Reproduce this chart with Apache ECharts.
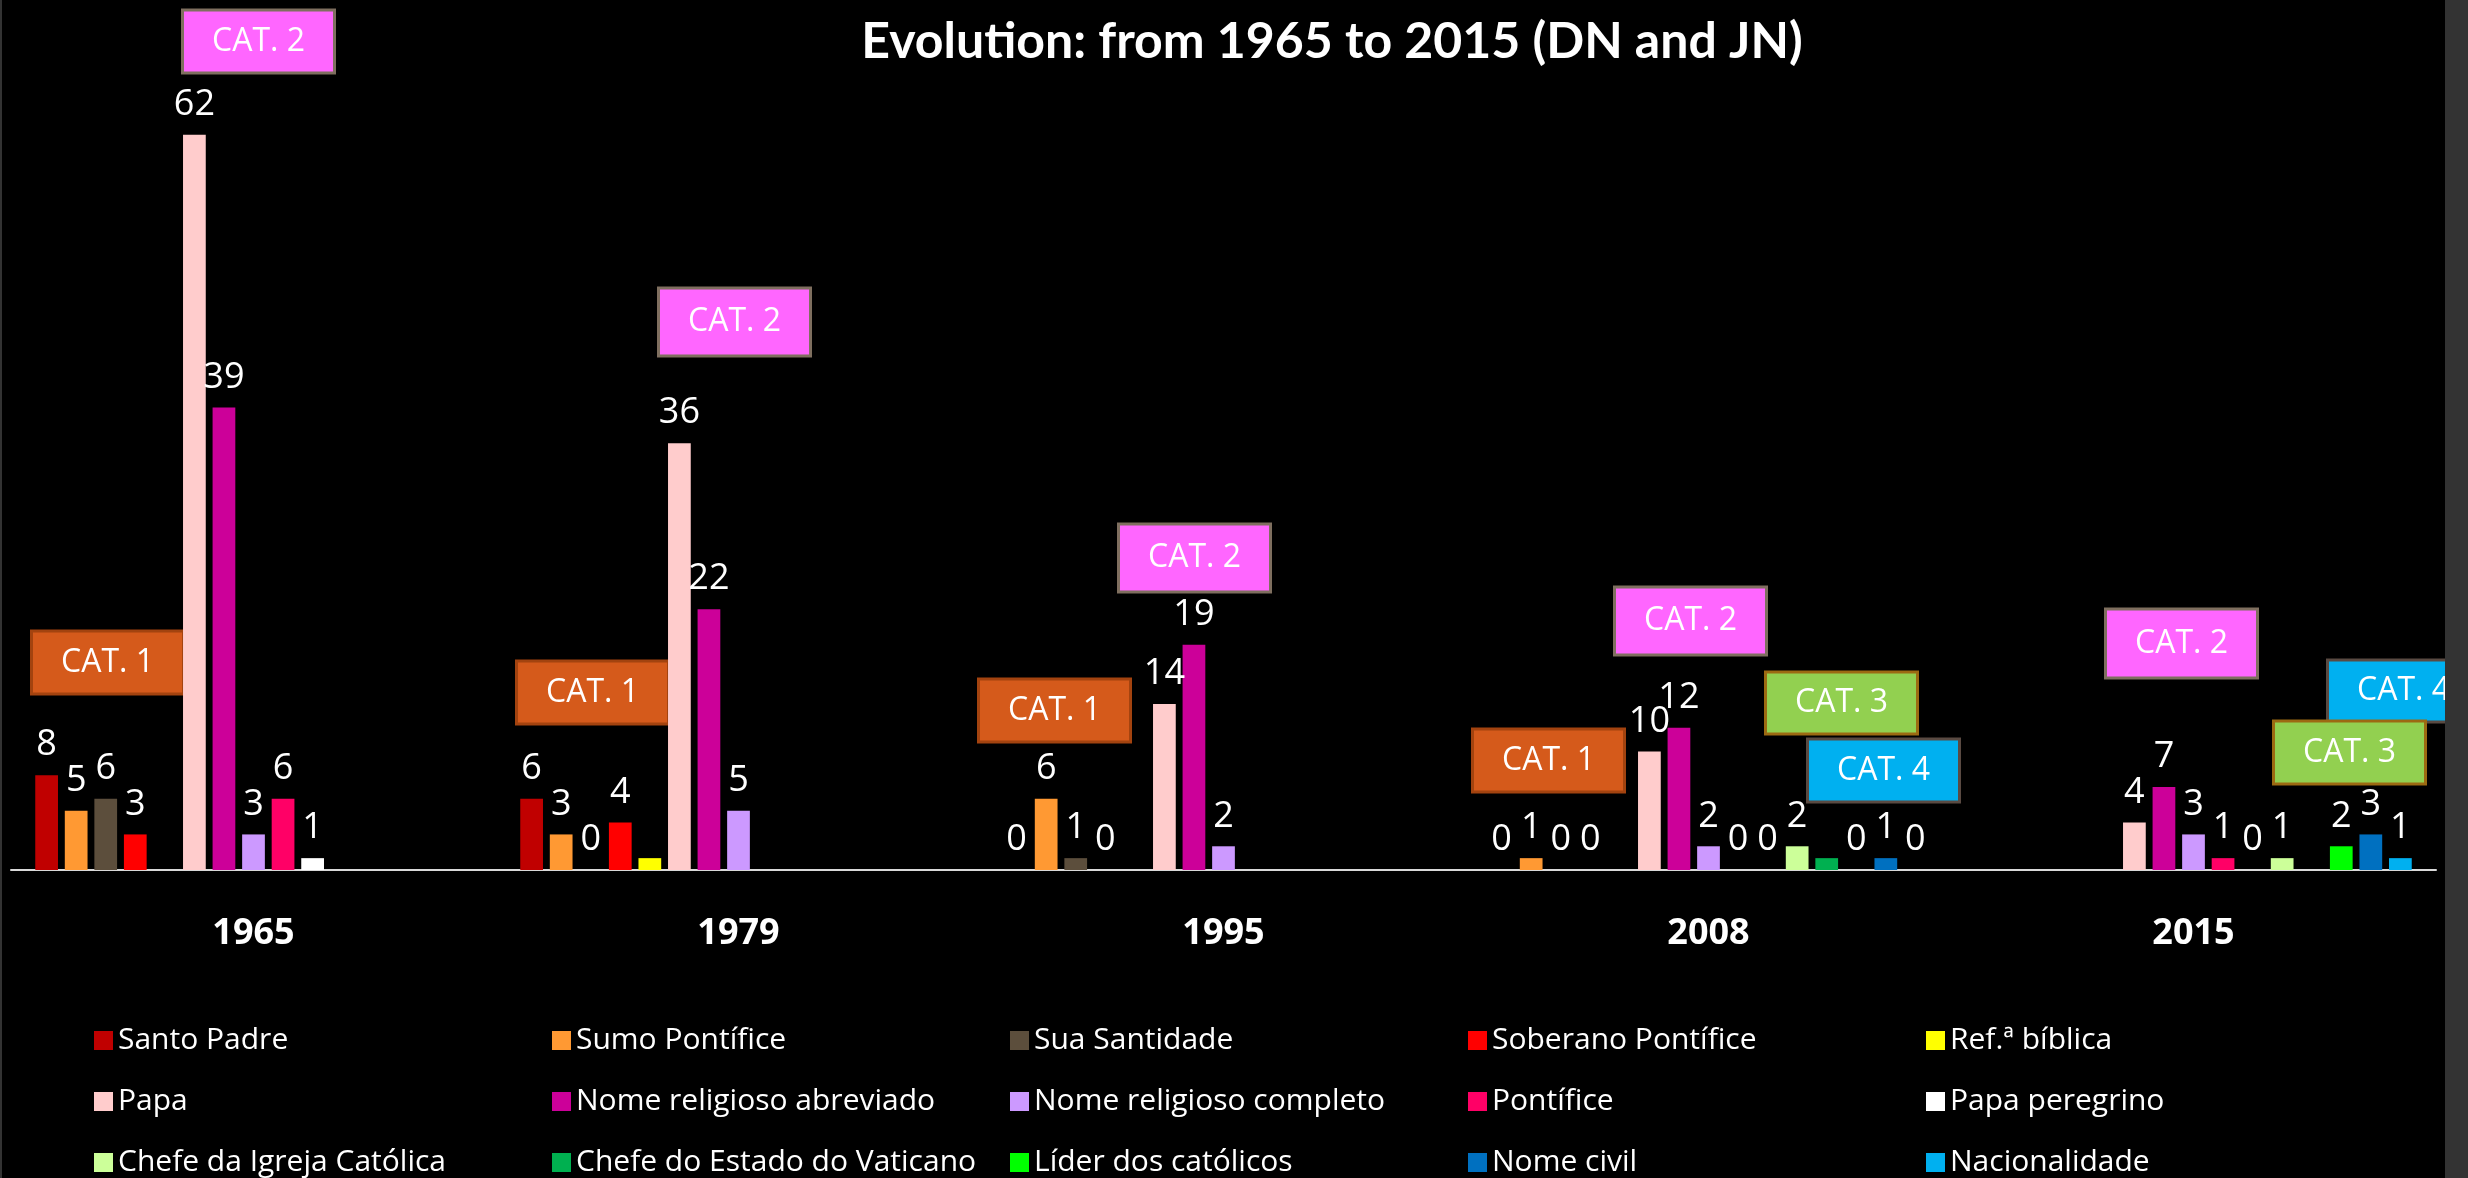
<!DOCTYPE html>
<html>
<head>
<meta charset="utf-8">
<script src="https://cdn.jsdelivr.net/npm/echarts@6/dist/echarts.min.js"></script>
<style>
html, body { margin: 0; padding: 0; background: #000; }
#chart { width: 2468px; height: 1178px; }
</style>
</head>
<body>
<div id="chart"></div>
<script>
var years = ['1965', '1979', '1995', '2008', '2015'];

var names = ['Santo Padre', 'Sumo Pontífice', 'Sua Santidade', 'Soberano Pontífice', 'Ref.ª bíblica',
    'Papa', 'Nome religioso abreviado', 'Nome religioso completo', 'Pontífice', 'Papa peregrino',
    'Chefe da Igreja Católica', 'Chefe do Estado do Vaticano', 'Líder dos católicos', 'Nome civil', 'Nacionalidade'];

var santoPadre = [8, 6, 0, 0, null];
var sumoPontifice = [5, 3, 6, 1, null];
var suaSantidade = [6, 0, 1, 0, null];
var soberanoPontifice = [3, 4, 0, 0, null];
var refBiblica = [null, 1, null, null, null];
var papa = [62, 36, 14, 10, 4];
var nomeAbreviado = [39, 22, 19, 12, 7];
var nomeCompleto = [3, 5, 2, 2, 3];
var pontifice = [6, null, null, 0, 1];
var papaPeregrino = [1, null, null, 0, 0];
var chefeIgreja = [null, null, null, 2, 1];
var chefeEstado = [null, null, null, 1, null];
var liderCatolicos = [null, null, null, 0, 2];
var nomeCivil = [null, null, null, 1, 3];
var nacionalidade = [null, null, null, 0, 1];

// values drawn without a label in the original: [series, year index]
var noLabel = [[4, 1], [11, 3]];

var values = [santoPadre, sumoPontifice, suaSantidade, soberanoPontifice, refBiblica,
    papa, nomeAbreviado, nomeCompleto, pontifice, papaPeregrino,
    chefeIgreja, chefeEstado, liderCatolicos, nomeCivil, nacionalidade];

var colors = ['#C00000', '#FF9933', '#5C4E3C', '#FF0000', '#FFFF00',
    '#FFCCCC', '#CC0099', '#CC99FF', '#FF0066', '#FFFFFF',
    '#CCFF99', '#00B050', '#00FF00', '#0070C0', '#00B0F0'];

// category boxes: fill / border per category number
var catFill = { 1: '#D55A1B', 2: '#FF66FF', 3: '#92D050', 4: '#00B0F0' };
var catStroke = { 1: '#A3430F', 2: '#7F6F5F', 3: '#9C6A12', 4: '#5A4A42' };
// [year index, category, x offset from year centre, top, height]
var boxes = [
    [0, 2, -71, 10, 63], [0, 1, -222, 631, 63],
    [1, 1, -222, 661, 63], [1, 2, -80, 288, 68],
    [2, 1, -245, 679, 63], [2, 2, -105, 524, 68],
    [3, 1, -236, 729, 63], [3, 2, -94, 587, 68], [3, 3, 57, 672, 62], [3, 4, 99, 739, 63],
    [4, 2, -88, 609, 69], [4, 4, 134, 660, 62], [4, 3, 80, 721, 63]
];

var chart = echarts.init(document.getElementById('chart'));

var series = [];
for (var i = 0; i < names.length; i++) {
    var data = values[i].map(function (v, j) {
        var hide = noLabel.some(function (p) { return p[0] === i && p[1] === j; });
        return hide ? { value: v, label: { show: false } } : v;
    });
    series.push({
        name: names[i],
        type: 'bar',
        data: data,
        barGap: '30%',
        barCategoryGap: '10%',
        itemStyle: { color: colors[i] },
        label: {
            show: true,
            position: 'top',
            distance: 12,
            color: '#fff',
            fontFamily: 'Open Sans',
            fontSize: 36
        }
    });
}

var option = {
    backgroundColor: '#000',
    animation: false,
    title: {
        text: 'Evolution: from 1965 to 2015 (DN and JN)',
        left: 1327,
        top: 12,
        textAlign: 'center',
        textStyle: { color: '#fff', fontFamily: 'Lato', fontWeight: 'bold', fontSize: 50 }
    },
    grid: { left: 11, right: 32, top: 40, bottom: 308, containLabel: false },
    xAxis: {
        type: 'category',
        data: years,
        axisLine: { lineStyle: { color: '#D9D9D9', width: 2 } },
        axisTick: { show: false },
        axisLabel: { color: '#fff', fontFamily: 'Open Sans', fontWeight: 'bold', fontSize: 36, margin: 46 }
    },
    yAxis: { type: 'value', min: 0, max: 70, show: false },
    legend: {
        data: names,
        left: 89,
        top: 1005,
        width: 2320,
        itemGap: 0,
        itemWidth: 19,
        itemHeight: 19,
        icon: 'rect',
        textStyle: { color: '#fff', fontFamily: 'Open Sans', fontSize: 30, width: 434, lineHeight: 61 }
    },
    series: series
};

chart.setOption(option);

var elements = [
    { type: 'rect', shape: { x: 2445, y: 0, width: 23, height: 1178 }, style: { fill: '#333333' }, z: 1 },
    { type: 'rect', shape: { x: 0, y: 0, width: 2, height: 1178 }, style: { fill: '#333333' }, z: 1 }
];
boxes.forEach(function (b) {
    var cx = chart.convertToPixel({ xAxisIndex: 0 }, years[b[0]]);
    elements.push({
        type: 'group',
        x: cx + b[2],
        y: b[3],
        z: 10,
        children: [{
            type: 'rect',
            shape: { x: 0, y: 0, width: 152, height: b[4] },
            style: { fill: catFill[b[1]], stroke: catStroke[b[1]], lineWidth: 3 }
        }, {
            type: 'text',
            x: 76,
            y: b[4] / 2,
            style: {
                text: 'CAT. ' + b[1],
                fill: '#fff',
                font: '32px "Open Sans"',
                align: 'center',
                verticalAlign: 'middle'
            }
        }]
    });
});
chart.setOption({ graphic: { elements: elements } });
</script>
</body>
</html>
